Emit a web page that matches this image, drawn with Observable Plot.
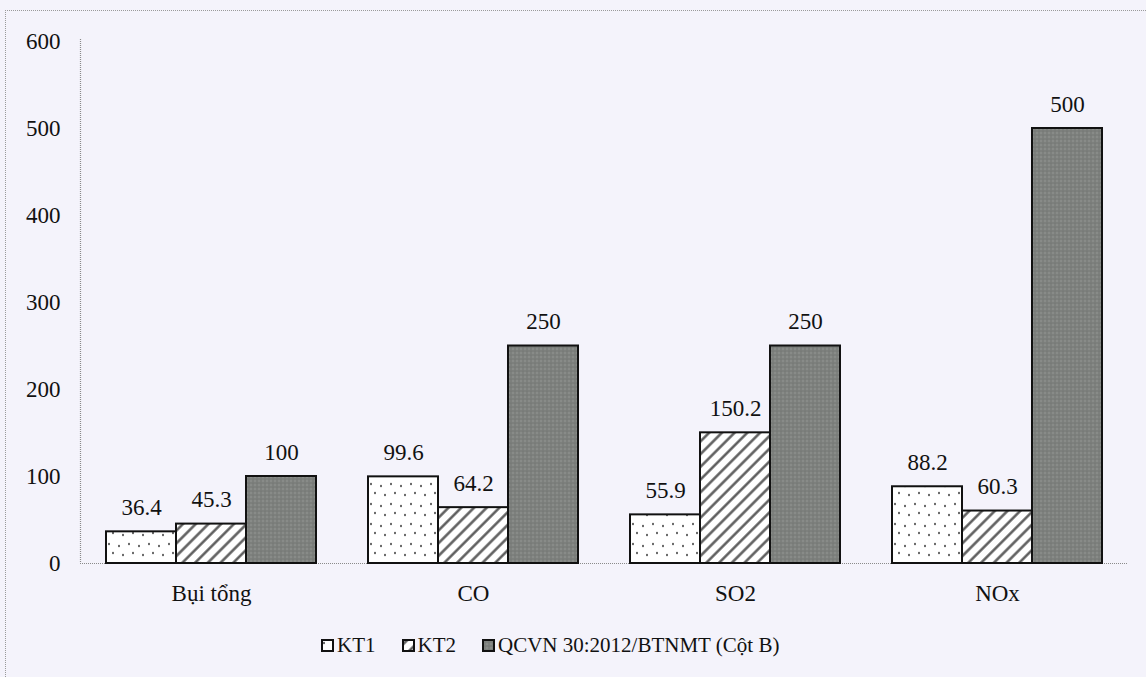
<!DOCTYPE html>
<html>
<head>
<meta charset="utf-8">
<script src="https://cdn.jsdelivr.net/npm/d3@7"></script>
<script src="https://cdn.jsdelivr.net/npm/@observablehq/plot@0.6"></script>
<style>
  html, body { margin: 0; padding: 0; background: #f4f3fb; }
  #wrap { position: relative; width: 1146px; height: 677px; overflow: hidden; background: #f4f3fb; }
  #frame { position: absolute; left: 5px; top: 10px; width: 1200px; height: 700px;
           border-left: 1px dotted #9a9a9a; border-top: 1px dotted #9a9a9a; }
  #chart { position: absolute; left: 0; top: 0; }
  #legend { position: absolute; left: 321px; top: 633px; display: flex; align-items: center;
            font-family: "Liberation Serif", "Times New Roman", serif; font-size: 21px; color: #111; white-space: nowrap; }
  #legend .item { display: flex; align-items: center; margin-right: 26px; }
  #legend svg { margin-right: 3px; }
</style>
</head>
<body>
<div id="wrap">
  <div id="frame"></div>
  <div id="chart"></div>
  <div id="legend"></div>
</div>
<script>
const categories = ["Bụi tổng", "CO", "SO2", "NOx"];
const seriesNames = ["KT1", "KT2", "QCVN 30:2012/BTNMT (Cột B)"];
const kt1Values = [36.4, 99.6, 55.9, 88.2];
const kt2Values = [45.3, 64.2, 150.2, 60.3];
const qcvnValues = [100, 250, 250, 500];
const yTicks = [0, 100, 200, 300, 400, 500, 600];

const seriesValues = [kt1Values, kt2Values, qcvnValues];
const patternIds = ["pKT1", "pKT2", "pQCVN"];

const data = [];
seriesNames.forEach((s, si) => {
  categories.forEach((c, ci) => {
    data.push({ cat: c, series: s, value: seriesValues[si][ci] });
  });
});

const font = "Liberation Serif, Times New Roman, serif";

const barMarks = seriesNames.map((s, i) =>
  Plot.barY(data.filter(d => d.series === s), {
    fx: "cat", x: "series", y: "value",
    fill: `url(#${patternIds[i]})`, stroke: "#111", strokeWidth: 2, inset: 0
  })
);

const plot = Plot.plot({
  width: 1146,
  height: 620,
  marginTop: 41,
  marginBottom: 57,
  marginLeft: 80,
  marginRight: 18,
  style: { fontFamily: font, fontSize: "23px", color: "#111", background: "transparent", overflow: "visible" },
  fx: { domain: categories, paddingInner: 0.2, paddingOuter: 0.1, axis: "bottom", label: null, tickSize: 0, tickPadding: 21 },
  x: { domain: seriesNames, axis: null, padding: 0 },
  y: { domain: [0, 600], ticks: yTicks, tickSize: 0, tickPadding: 46, label: null },
  marks: [
    ...barMarks,
    Plot.text(data, { fx: "cat", x: "series", y: "value", text: d => String(d.value), dy: -24, fill: "#111", fontSize: 23 })
  ]
});

const svg = d3.select(plot);
const defs = svg.insert("defs", ":first-child");

// KT1: white with sparse dots
const p1 = defs.append("pattern").attr("id", "pKT1").attr("patternUnits", "userSpaceOnUse")
  .attr("width", 20).attr("height", 20);
p1.append("rect").attr("width", 20).attr("height", 20).attr("fill", "#ffffff");
[[3, 4], [13, 6], [7, 13], [17, 15]].forEach(([cx, cy]) =>
  p1.append("ellipse").attr("cx", cx).attr("cy", cy).attr("rx", 0.8).attr("ry", 1.2).attr("fill", "#333"));

// KT2: white with "/" hatching
const p2 = defs.append("pattern").attr("id", "pKT2").attr("patternUnits", "userSpaceOnUse")
  .attr("width", 9).attr("height", 9).attr("patternTransform", "rotate(45)");
p2.append("rect").attr("width", 9).attr("height", 9).attr("fill", "#ffffff");
p2.append("line").attr("x1", 4.5).attr("y1", 0).attr("x2", 4.5).attr("y2", 9)
  .attr("stroke", "#555").attr("stroke-width", 2.4);

// QCVN: dark gray textured
const p3 = defs.append("pattern").attr("id", "pQCVN").attr("patternUnits", "userSpaceOnUse")
  .attr("width", 4).attr("height", 4);
p3.append("rect").attr("width", 4).attr("height", 4).attr("fill", "#7d807d");
p3.append("circle").attr("cx", 1).attr("cy", 1).attr("r", 0.7).attr("fill", "#9c9f9c");
p3.append("circle").attr("cx", 3).attr("cy", 3).attr("r", 0.6).attr("fill", "#6c6f6c");

// Axis lines (dotted gray) drawn from the scales
const ys = plot.scale("y");
const y0 = ys.apply(0), yTop = ys.apply(600);
const axisG = svg.append("g").attr("stroke", "#8a8a8a").attr("stroke-width", 1.2).attr("stroke-dasharray", "1,1");
axisG.append("line").attr("x1", 80).attr("x2", 1146 - 18).attr("y1", y0 + 0.5).attr("y2", y0 + 0.5);
axisG.append("line").attr("x1", 80.5).attr("x2", 80.5).attr("y1", yTop - 2).attr("y2", y0);
svg.selectAll("g[aria-label='bar']").raise();
svg.selectAll("g[aria-label='text']").raise();

document.getElementById("chart").appendChild(plot);

// Legend
const legend = d3.select("#legend");
seriesNames.forEach((s, i) => {
  const item = legend.append("div").attr("class", "item");
  const sw = item.append("svg").attr("width", 13).attr("height", 13);
  sw.append("rect").attr("x", 1).attr("y", 1).attr("width", 11).attr("height", 11)
    .attr("fill", `url(#${patternIds[i]})`).attr("stroke", "#111").attr("stroke-width", 2);
  item.append("span").text(s);
});
</script>
</body>
</html>
